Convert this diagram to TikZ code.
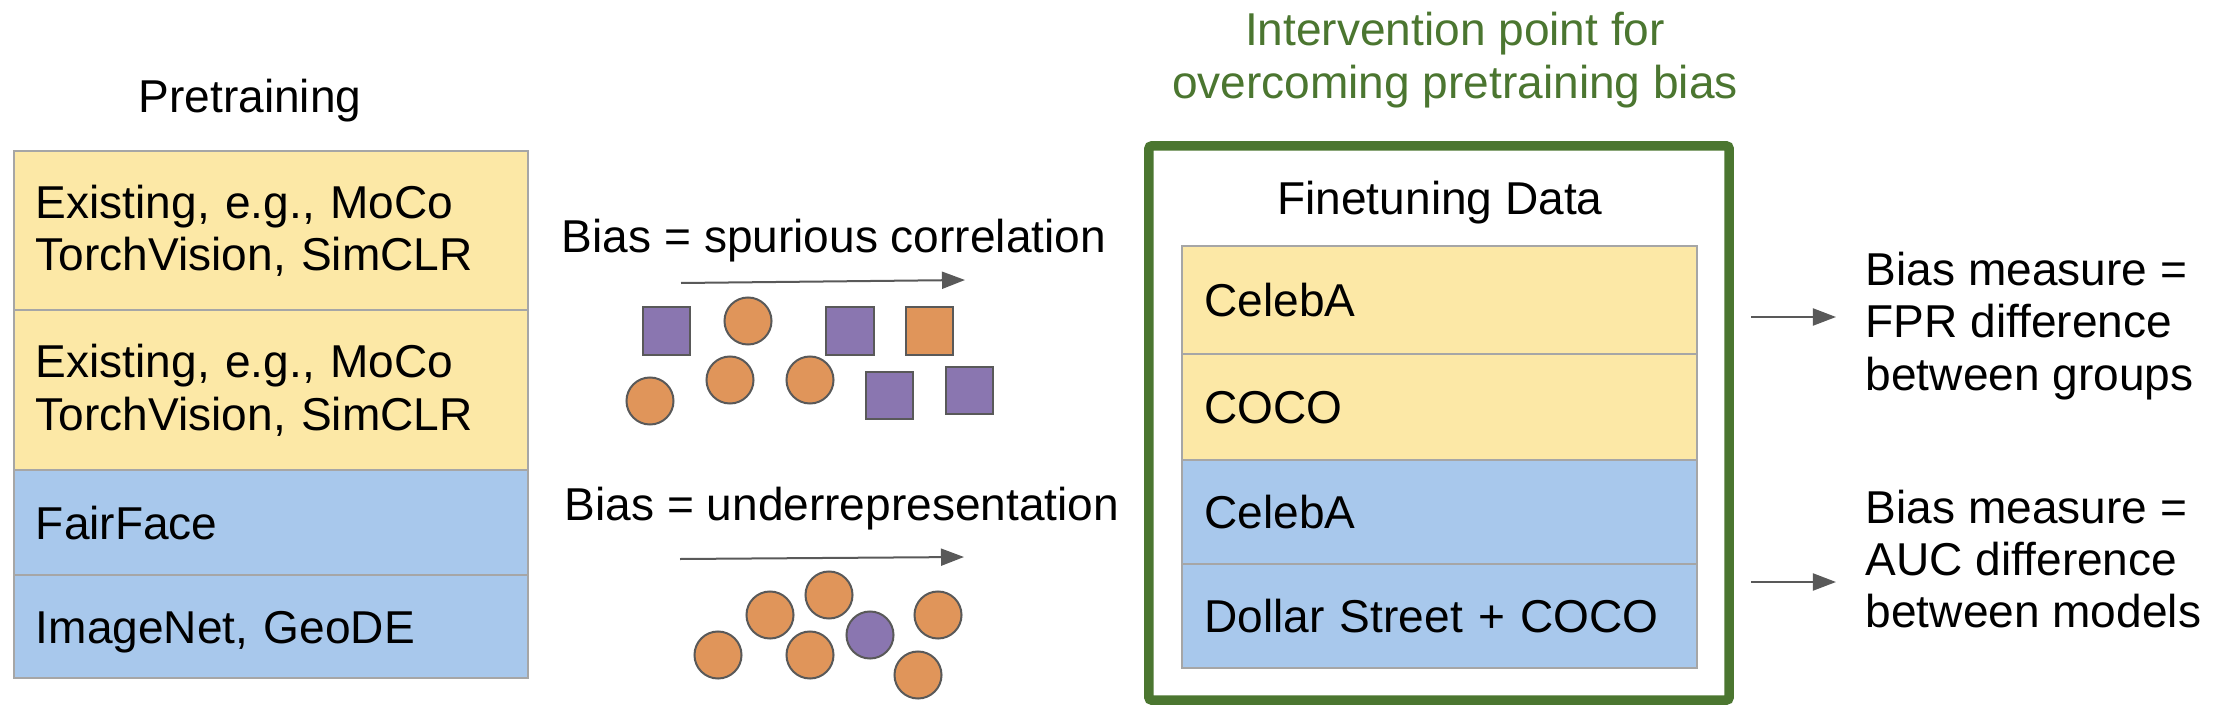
\documentclass[tikz,border=0pt]{standalone}
\usepackage{fontspec}
\setsansfont{Liberation Sans}
\usepackage{xcolor}
\definecolor{pastelYellow}{HTML}{FCE8A6}
\definecolor{pastelBlue}{HTML}{A8C8EC}
\definecolor{rowGray}{HTML}{A6A6A6}
\definecolor{dotOrange}{HTML}{E0955A}
\definecolor{dotPurple}{HTML}{8A76B0}
\definecolor{outlineGray}{HTML}{595959}
\definecolor{interveneGreen}{HTML}{4B7630}
\usepackage{tikz}
\usetikzlibrary{
    arrows.meta,
    positioning
}
\tikzset{
    % Base style for all texts
    slide base/.style={
        font=\sffamily\fontsize{13.1pt}{14.9pt}\selectfont,
        text=black,
        inner sep=0pt,
    },
    % Rows of a data stack - left aligned text
    data row/.style={
        slide base,
        rectangle,
        draw=rowGray,
        line width=0.5pt,
        outer sep=0pt,
        text width=4.70cm,
        inner xsep=0.22cm,
        align=left,
    },
    yellow row/.style={data row, fill=pastelYellow},
    blue row/.style={data row, fill=pastelBlue},
    % One line rows - centre on the capitals
    single line/.style={text height=9.4pt, text depth=0pt},
    % Samples drawn under the bias arrows
    sample box/.style={
        rectangle,
        draw=outlineGray,
        line width=0.02cm,
        minimum size=0.47cm,
        inner sep=0pt,
    },
    sample dot/.style={
        circle,
        draw=outlineGray,
        line width=0.02cm,
        minimum size=0.47cm,
        inner sep=0pt,
    },
    % Thin grey arrow
    trend arrow/.style={
        -{Triangle[length=0.23cm, width=0.17cm]},
        line width=0.02cm,
        draw=outlineGray,
    },
    % Green frame round the finetuning data
    intervention frame/.style={
        rectangle,
        draw=interveneGreen,
        line width=0.095cm,
        rounded corners=0.03cm,
        minimum width=5.80cm,
        minimum height=5.54cm,
        inner sep=0pt,
    },
    intervention label/.style={
        slide base,
        text=interveneGreen,
        align=center,
    },
}

\begin{document}
\frenchspacing
\begin{tikzpicture}[x=0.01cm, y=-0.01cm]
    \useasboundingbox (0,0) rectangle (2220,712);

    % Pretraining stack
    \node (pretitle) [slide base, anchor=base] at (250,113) {Pretraining};
    \node (pre1) [yellow row, minimum height=1.59cm, anchor=north] at (271,151) {Existing, e.g., MoCo\\TorchVision, SimCLR};
    \node (pre2) [yellow row, minimum height=1.60cm, below=0pt of pre1] {Existing, e.g., MoCo\\TorchVision, SimCLR};
    \node (pre3) [blue row, single line, minimum height=1.05cm, below=0pt of pre2] {FairFace};
    \node (pre4) [blue row, single line, minimum height=1.03cm, below=0pt of pre3] {ImageNet, GeoDE};

    % Spurious correlation
    \node (spurious) [slide base, anchor=base] at (834,252) {Bias = spurious correlation};
    \coordinate (spuriousstart) at (681,283);
    \coordinate (spuriousend) at (965,280);
    \draw [trend arrow] (spuriousstart) -- (spuriousend);
    \foreach \x/\y [count=\i] in {666.5/331, 850/331, 889.5/395.5, 969.5/390.5}
        \node (spuriousbox\i) [sample box, fill=dotPurple] at (\x,\y) {};
    \node (spuriousbox5) [sample box, fill=dotOrange] at (929.5,331) {};
    \foreach \x/\y [count=\i] in {748/321, 650/401, 730/380, 810/380}
        \node (spuriousdot\i) [sample dot, fill=dotOrange] at (\x,\y) {};

    % Underrepresentation
    \node (under) [slide base, anchor=base] at (842,520) {Bias = underrepresentation};
    \coordinate (understart) at (680,559);
    \coordinate (underend) at (964,557);
    \draw [trend arrow] (understart) -- (underend);
    \foreach \x/\y [count=\i] in {718/655, 770/615, 829/595, 810/655, 938/615, 918/675}
        \node (underdot\i) [sample dot, fill=dotOrange] at (\x,\y) {};
    \node (underdot7) [sample dot, fill=dotPurple] at (870,635) {};

    % Finetuning data
    \node (intervention) [intervention label] at (1455,60) {Intervention point for\\overcoming pretraining bias};
    \node (frame) [intervention frame] at (1439,423) {};
    \node (finetitle) [slide base, anchor=base] at (1440,214) {Finetuning Data};
    \node (fine1) [yellow row, single line, minimum height=1.08cm, anchor=north] at (1439.5,246) {CelebA};
    \node (fine2) [yellow row, single line, minimum height=1.06cm, below=0pt of fine1] {COCO};
    \node (fine3) [blue row, single line, minimum height=1.04cm, below=0pt of fine2] {CelebA};
    \node (fine4) [blue row, single line, minimum height=1.04cm, below=0pt of fine3] {Dollar Street + COCO};

    % Bias measures
    \node (fprnote) [slide base, align=left, anchor=west] at (1865,326) {Bias measure =\\FPR difference\\between groups};
    \node (aucnote) [slide base, align=left, anchor=west] at (1865,559) {Bias measure =\\AUC difference\\between models};
    \coordinate (fprtail) at (1751,317);
    \coordinate (auctail) at (1751,582);
    \draw [trend arrow, shorten >=0.29cm] (fprtail) -- (fprtail -| fprnote.west);
    \draw [trend arrow, shorten >=0.29cm] (auctail) -- (auctail -| aucnote.west);
\end{tikzpicture}
\end{document}
